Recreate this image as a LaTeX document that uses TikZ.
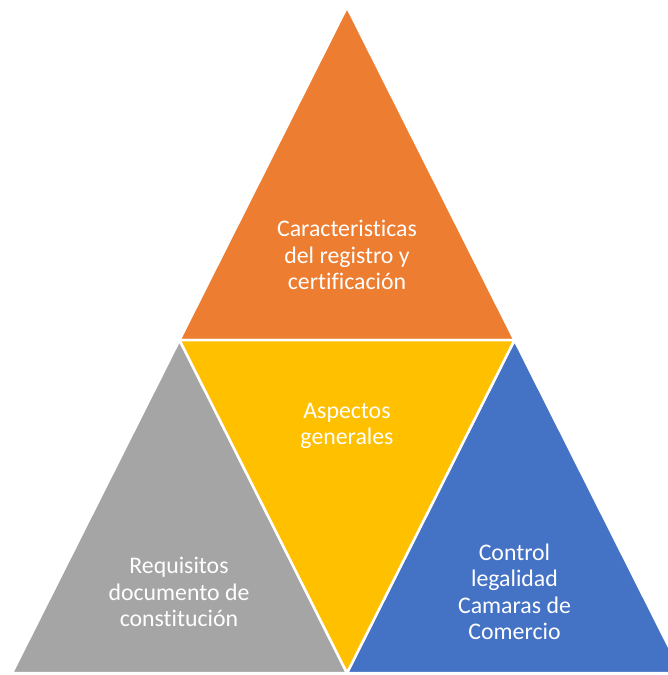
\documentclass[tikz,border=0pt]{standalone}
\usepackage{fontspec}
\setmainfont{Carlito}[Ligatures=NoCommon]
\definecolor{cOrange}{HTML}{ED7D31}
\definecolor{cYellow}{HTML}{FFC000}
\definecolor{cGray}{HTML}{A5A5A5}
\definecolor{cBlue}{HTML}{4472C4}
\begin{document}
\begin{tikzpicture}[x=1pt,y=-1pt,
  tri/.style={draw=white,line width=2.5pt,line join=miter},
  lbl/.style={text=white,align=center,font=\fontsize{23.8}{26.5}\selectfont,inner sep=0pt}]
\useasboundingbox (0,0) rectangle (668,675);
\clip (0,0) rectangle (668,675);
\coordinate (A) at (347,7);
\coordinate (L) at (12,673);
\coordinate (R) at (682,673);
\coordinate (ML) at (179.5,340);
\coordinate (MR) at (514.5,340);
\coordinate (MB) at (347,673);
\fill[white] (0,0) rectangle (668,675);
\filldraw[tri,fill=cOrange] (A) -- (MR) -- (ML) -- cycle;
\filldraw[tri,fill=cGray] (ML) -- (MB) -- (L) -- cycle;
\filldraw[tri,fill=cBlue] (MR) -- (R) -- (MB) -- cycle;
\filldraw[tri,fill=cYellow] (ML) -- (MR) -- (MB) -- cycle;
\node[lbl] (t1) at (347,255) {Caracteristicas\\del registro y\\certificación};
\node[lbl] (t2) at (347,426) {Aspectos\\generales};
\node[lbl] (t3) at (179,592) {Requisitos\\documento de\\constitución};
\node[lbl] (t4) at (514.5,592) {Control\\legalidad\\Camaras de\\Comercio};
\end{tikzpicture}
\end{document}
